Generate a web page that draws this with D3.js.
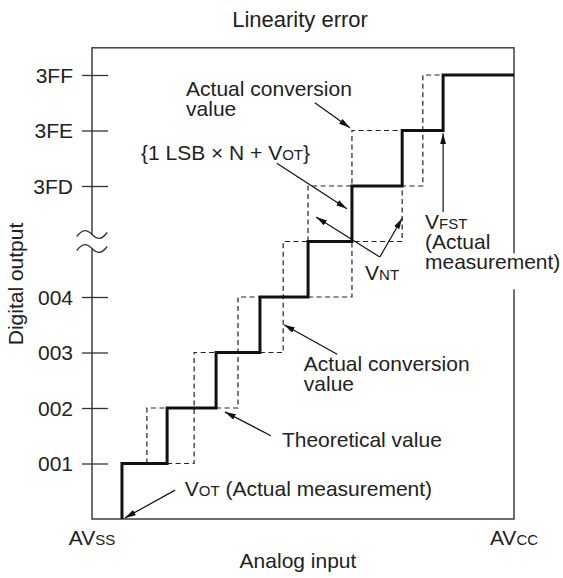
<!DOCTYPE html>
<html><head><meta charset="utf-8">
<script src="https://cdn.jsdelivr.net/npm/d3@7"></script>
<style>
body{margin:0;background:#fff}
svg{display:block}
text{font-family:"Liberation Sans",Arial,Helvetica,sans-serif;fill:#222}
</style>
</head><body><svg id="c" width="563" height="578"></svg>
<script>
// ---------- data ----------
const title = "Linearity error";
const xAxisTitle = "Analog input";
const yAxisTitle = "Digital output";
const levelTicks = [1, 2, 3, 4, 6, 7, 8];
const levelLabels = ["001", "002", "003", "004", "3FD", "3FE", "3FF"];
const breakLevel = 5;
const xEndLabels = [[["AV", false], ["SS", true]], [["AV", false], ["CC", true]]];
const xEndValues = [0, 100];
// analog input (% of AVss..AVcc) where the thick staircase steps up by one code
const stepEdges = [7.1, 17.8, 29.4, 39.8, 51.2, 61.6, 73.5, 83.2];
// dashed staircase pieces: [analog %, code level]
const dashedPaths = [
  [[13.0,1],[13.0,2],[17.8,2]],
  [[17.8,1],[24.2,1],[24.2,3],[29.4,3]],
  [[29.4,2],[34.6,2],[34.6,4],[39.8,4]],
  [[39.8,3],[45.3,3],[45.3,5],[51.2,5]],
  [[51.2,4],[61.6,4],[61.6,5],[73.5,5],[73.5,6],[78.4,6],[78.4,8],[83.2,8]],
  [[51.2,5],[51.2,6],[61.6,6],[61.6,7],[73.5,7]]
];
// annotation arrows: from -> to, [analog %, code level]
const arrows = [
  [[52.8,7.50],[61.1,7.05]],
  [[43.8,6.41],[60.4,5.59]],
  [[68.2,4.72],[53.1,5.44]],
  [[68.2,4.72],[73.5,5.42]],
  [[83.2,5.53],[83.2,6.95]],
  [[58.1,2.97],[45.5,3.50]],
  [[42.4,1.50],[31.5,1.93]],
  [[19.7,0.52],[7.8,0.02]]
];
// annotation labels: anchor [analog %, code level], lines of [text, smallCaps]
const labels = [
  {at:[22.3,7.62], lines:[[["Actual conversion",false]],[["value",false]]]},
  {at:[11.6,6.47], lines:[[["{1 LSB \u00D7 N + V",false],["OT",true],["}",false]]]},
  {at:[64.7,4.31], lines:[[["V",false],["NT",true]]]},
  {at:[78.9,5.22], lines:[[["V",false],["FST",true]],[["(Actual",false]],[["measurement)",false]]], bg:true},
  {at:[50.2,2.67], lines:[[["Actual conversion",false]],[["value",false]]]},
  {at:[45.0,1.30], lines:[[["Theoretical value",false]]]},
  {at:[22.0,0.41], lines:[[["V",false],["OT",true],[" (Actual measurement)",false]]]}
];

// ---------- layout ----------
const FS = 21, SMALL = 15, LINE = 20;
const svg = d3.select("#c");
const x = d3.scaleLinear().domain([0, 100]).range([92, 514]);
const y = d3.scaleLinear().domain([0, 8]).range([519, 75]);
const frameTop = 8.49;

// title
svg.append("text").attr("x", 300).attr("y", 27).attr("text-anchor", "middle")
  .attr("font-size", 22).text(title);

// frame
svg.append("rect").attr("x", x(0)).attr("y", y(frameTop))
  .attr("width", x(100) - x(0)).attr("height", y(0) - y(frameTop))
  .attr("fill", "none").attr("stroke", "#333").attr("stroke-width", 1.4);

// y axis ticks
const yAxis = d3.axisLeft(y).tickValues(levelTicks)
  .tickFormat((d, i) => levelLabels[i]).tickSizeInner(10).tickSizeOuter(0).tickPadding(9);
const gy = svg.append("g").attr("transform", `translate(${x(0)},0)`).call(yAxis);
gy.select(".domain").remove();
gy.selectAll(".tick line").attr("x1", 16).attr("x2", -10).attr("stroke", "#333").attr("stroke-width", 1.3);
gy.selectAll(".tick text").attr("font-size", FS).attr("font-family", null).attr("fill", "#222").attr("dy", "0.35em");

// axis break symbol
const by = y(breakLevel);
svg.append("rect").attr("x", x(0) - 4).attr("y", by - 7).attr("width", 8).attr("height", 14).attr("fill", "#fff");
[-7, 7].forEach(off => {
  const yy = by + off, x0 = x(-3.6), x1 = x(3.6), xm = x(0);
  svg.append("path")
    .attr("d", `M${x0},${yy + 2} C${x0 + 6},${yy - 6} ${xm - 5},${yy - 5} ${xm},${yy} C${xm + 5},${yy + 5} ${x1 - 6},${yy + 6} ${x1},${yy - 2}`)
    .attr("fill", "none").attr("stroke", "#333").attr("stroke-width", 1.3);
});

// dashed staircase
const line = d3.line().x(d => x(d[0])).y(d => y(d[1]));
dashedPaths.forEach(p => {
  svg.append("path").attr("d", line(p)).attr("fill", "none")
    .attr("stroke", "#222").attr("stroke-width", 1.2).attr("stroke-dasharray", "5,3.5");
});

// thick staircase
const thick = [[stepEdges[0], 0]];
stepEdges.forEach((e, k) => {
  thick.push([e, k + 1]);
  if (k + 1 < stepEdges.length) thick.push([stepEdges[k + 1], k + 1]);
});
thick.push([100, stepEdges.length]);
svg.append("path").attr("d", line(thick)).attr("fill", "none")
  .attr("stroke", "#111").attr("stroke-width", 3).attr("stroke-linejoin", "miter");

// arrow marker
svg.append("defs").append("marker").attr("id", "ah")
  .attr("viewBox", "0 0 11 6").attr("refX", 11).attr("refY", 3)
  .attr("markerWidth", 11).attr("markerHeight", 6).attr("markerUnits", "userSpaceOnUse")
  .attr("orient", "auto")
  .append("path").attr("d", "M0,0 L11,3 L0,6 Z").attr("fill", "#111");

// labels (one text element per label, lines as tspans)
function addLabel(parent, lx, ly, lines, anchor) {
  const t = parent.append("text").attr("x", lx).attr("y", ly).attr("font-size", FS);
  if (anchor) t.attr("text-anchor", anchor);
  const lineWidths = [];
  lines.forEach((segs, i) => {
    let w = 0;
    segs.forEach((s, j) => {
      const ts = t.append("tspan").attr("font-size", s[1] ? SMALL : FS).text(s[0]);
      if (j === 0) ts.attr("x", lx).attr("dy", i === 0 ? 0 : LINE);
      w += ts.node().getComputedTextLength();
    });
    lineWidths.push(w);
  });
  return {t, lineWidths};
}
labels.forEach(L => {
  const g = svg.append("g");
  const lx = x(L.at[0]), ly = y(L.at[1]);
  const r = addLabel(g, lx, ly, L.lines);
  if (L.bg) {
    const last = L.lines.length - 1;
    const base = ly + last * LINE;
    g.insert("rect", "text").attr("x", lx - 2).attr("y", base - 16)
      .attr("width", r.lineWidths[last] + 4).attr("height", 36).attr("fill", "#fff");
  }
});

// arrows
arrows.forEach(a => {
  svg.append("line").attr("x1", x(a[0][0])).attr("y1", y(a[0][1]))
    .attr("x2", x(a[1][0])).attr("y2", y(a[1][1]))
    .attr("stroke", "#111").attr("stroke-width", 1.2).attr("marker-end", "url(#ah)");
});

// x end labels & axis titles
xEndLabels.forEach((segs, i) => addLabel(svg, x(xEndValues[i]), 545, [segs], "middle"));
svg.append("text").attr("x", 298).attr("y", 568).attr("text-anchor", "middle")
  .attr("font-size", FS).text(xAxisTitle);
svg.append("text").attr("transform", "translate(16,284) rotate(-90)")
  .attr("text-anchor", "middle").attr("dy", "0.35em").attr("font-size", FS).text(yAxisTitle);
</script>
</body></html>
